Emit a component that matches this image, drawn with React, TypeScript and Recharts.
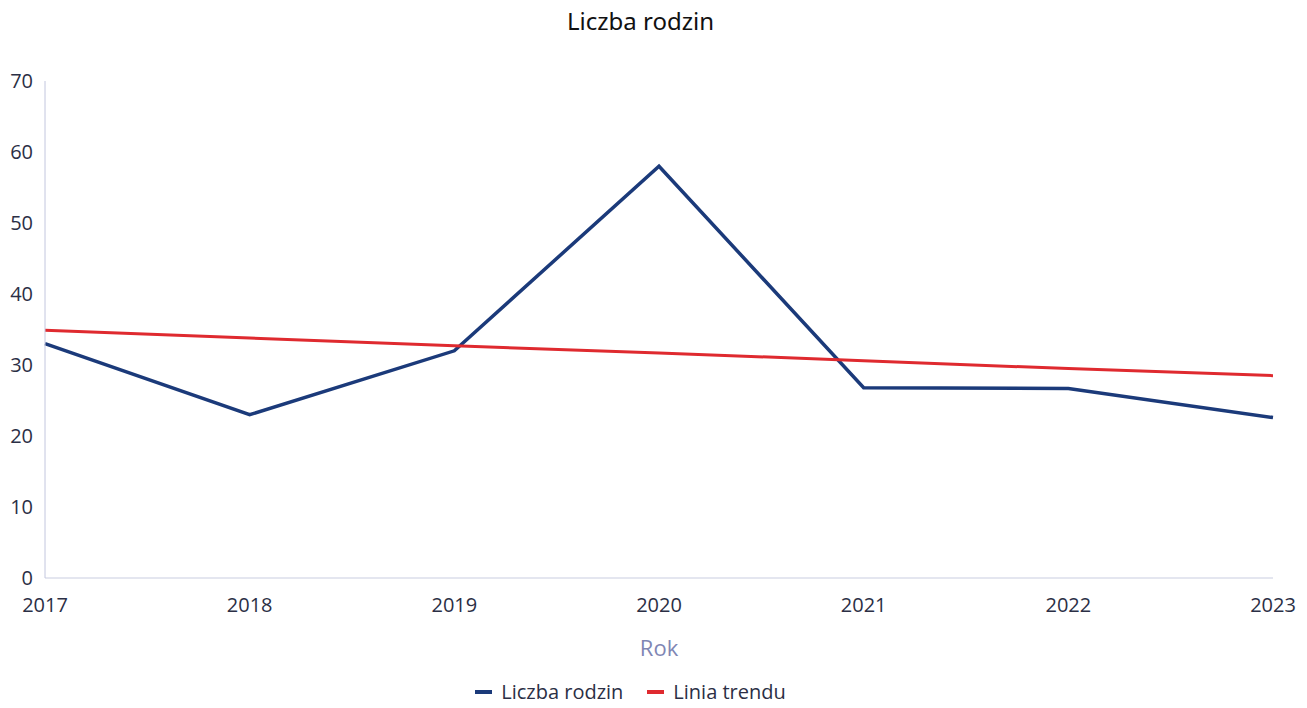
import React from "react";
import { LineChart, Line, XAxis, YAxis, Legend } from "recharts";

const years = ["2017", "2018", "2019", "2020", "2021", "2022", "2023"];
const liczbaRodzin = [33, 23, 32, 58, 26.8, 26.7, 22.6];
const liniaTrendu = [34.9, 33.8, 32.7, 31.7, 30.6, 29.5, 28.5];
const yTicks = [0, 10, 20, 30, 40, 50, 60, 70];

const data = years.map((y, i) => ({
  rok: y,
  liczba: liczbaRodzin[i],
  trend: liniaTrendu[i],
}));

const FONT = "'Open Sans', 'Noto Sans', sans-serif";

const renderLegend = (props: any) => {
  const { payload } = props;
  return (
    <div style={{ display: "flex", justifyContent: "center", alignItems: "center", fontFamily: FONT, fontSize: 20, color: "#2b2f45", paddingRight: 12 }}>
      {payload.map((p: any) => (
        <div key={p.value} style={{ display: "flex", alignItems: "center", margin: "0 12px" }}>
          <span style={{ display: "inline-block", width: 17, height: 4, background: p.color, marginRight: 9 }} />
          <span>{p.value}</span>
        </div>
      ))}
    </div>
  );
};

export default function App() {
  return (
    <div style={{ position: "absolute", left: 0, top: 0, width: 1307, height: 708, background: "#fff" }}>
      <div style={{ position: "absolute", left: 0, top: 4, width: 1281, textAlign: "center", fontFamily: "'Noto Sans', sans-serif", fontSize: 24, color: "#111" }}>
        Liczba rodzin
      </div>
      <LineChart width={1307} height={708} data={data} margin={{ top: 81, right: 34, left: 0, bottom: 0 }}>
        <XAxis
          dataKey="rok"
          height={100}
          tickLine={false}
          tickSize={0}
          tickMargin={20}
          axisLine={{ stroke: "#c9cde0" }}
          tick={{ fill: "#2b2f45", fontSize: 20, fontFamily: FONT }}
          interval={0}
          label={{ value: "Rok", position: "insideBottom", offset: 22, fill: "#7f86b4", fontSize: 22, fontFamily: FONT }}
        />
        <YAxis
          width={45}
          domain={[0, 70]}
          ticks={yTicks}
          tickLine={false}
          tickSize={0}
          tickMargin={12}
          axisLine={{ stroke: "#c2c6de" }}
          tick={{ fill: "#2b2f45", fontSize: 20, fontFamily: FONT }}
        />
        <Legend verticalAlign="bottom" height={30} content={renderLegend} />
        <Line
          type="linear"
          dataKey="liczba"
          name="Liczba rodzin"
          stroke="#1b3a7a"
          strokeWidth={3.5}
          dot={false}
          isAnimationActive={false}
        />
        <Line
          type="linear"
          dataKey="trend"
          name="Linia trendu"
          stroke="#df2a2f"
          strokeWidth={3}
          dot={false}
          isAnimationActive={false}
        />
      </LineChart>
    </div>
  );
}
